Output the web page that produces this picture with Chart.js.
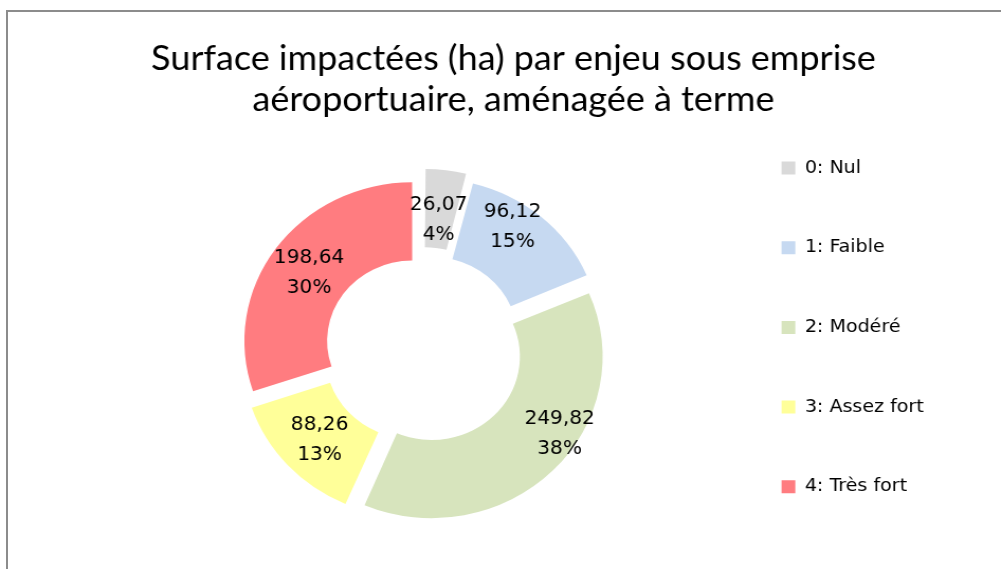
<!DOCTYPE html>
<html lang="fr">
<head>
<meta charset="utf-8">
<title>Surface impactées par enjeu</title>
<script src="https://cdn.jsdelivr.net/npm/chart.js@4.4.1/dist/chart.umd.min.js"></script>
<style>
  html, body { margin: 0; padding: 0; background: #fff; overflow: hidden; }
  #cadre {
    position: absolute; left: 6px; top: 10px; width: 1100px; height: 700px;
    border-left: 2px solid #8c8c8c; border-top: 2px solid #8c8c8c;
  }
  #zone {
    position: absolute; left: 0; top: 0; width: 946px; height: 569px;
    transform: scaleX(1.0581); transform-origin: 0 0;
  }
</style>
</head>
<body>
<div id="cadre"></div>
<div id="zone"><canvas id="graphique"></canvas></div>
<script>
// Données du graphique
const enjeux = ["0: Nul", "1: Faible", "2: Modéré", "3: Assez fort", "4: Très fort"];
const surfaces = [26.07, 96.12, 249.82, 88.26, 198.64];
const couleurs = ["#d9d9d9", "#c6d9f1", "#d7e4bd", "#ffff99", "#ff7c80"];
const titre = ["Surface impactées (ha) par enjeu sous emprise", "aéroportuaire, aménagée à terme"];

// Petit décalage des étiquettes pour les secteurs 1 et 2
const decalages = [[-1, 2], [0, -21], [37, -7], [-1, 3], [-1, 2]];

// Plugin pour écrire la valeur et le pourcentage sur chaque secteur
const etiquettes = {
    id: "etiquettes",
    afterDatasetsDraw(chart) {
        const ctx = chart.ctx;
        const meta = chart.getDatasetMeta(0);
        const total = surfaces.reduce((a, b) => a + b, 0);
        ctx.save();
        ctx.font = "19px 'DejaVu Sans'";
        ctx.fillStyle = "#000";
        ctx.textAlign = "center";
        ctx.textBaseline = "middle";
        meta.data.forEach((arc, i) => {
            const p = arc.getProps(["x", "y", "startAngle", "endAngle", "innerRadius", "outerRadius"]);
            const milieu = (p.startAngle + p.endAngle) / 2;
            // l'arc est décalé de offset/4 quand il est dessiné
            const r = (p.innerRadius + p.outerRadius) / 2 + arc.options.offset / 4;
            const x = p.x + Math.cos(milieu) * r + decalages[i][0];
            const y = p.y + Math.sin(milieu) * r + decalages[i][1];
            const valeur = surfaces[i].toFixed(2).replace(".", ",");
            const pct = Math.round(surfaces[i] / total * 100) + "%";
            ctx.fillText(valeur, x, y - 15);
            ctx.fillText(pct, x, y + 15);
        });
        ctx.restore();
    }
};

const canvas = document.getElementById("graphique");
const graphique = new Chart(canvas, {
    type: "doughnut",
    data: {
        labels: enjeux,
        datasets: [{
            data: surfaces,
            backgroundColor: couleurs,
            borderWidth: 0,
            offset: 48,
            hoverOffset: 0
        }]
    },
    options: {
        responsive: true,
        maintainAspectRatio: false,
        animation: false,
        radius: 158,
        cutout: "50.5%",
        layout: { padding: { left: 87.6, right: 63, top: 0, bottom: 4.4 } },
        plugins: {
            tooltip: { enabled: false },
            title: {
                display: true,
                text: titre,
                color: "#000",
                font: { family: "Lato, sans-serif", size: 34, weight: "normal", lineHeight: 1.2 },
                padding: { top: 38.6, bottom: 11.2 }
            },
            legend: {
                position: "right",
                align: "start",
                fullSize: false,
                labels: {
                    boxWidth: 13,
                    boxHeight: 13,
                    padding: 27.6,
                    color: "#000",
                    font: { family: "'DejaVu Sans'", size: 18, lineHeight: 52.1 / 18 },
                    generateLabels(chart) {
                        const items = Chart.overrides.doughnut.plugins.legend.labels.generateLabels(chart);
                        return items.map(it => Object.assign(it, { text: [it.text], lineWidth: 0 }));
                    }
                }
            }
        }
    },
    plugins: [etiquettes]
});
</script>
</body>
</html>
